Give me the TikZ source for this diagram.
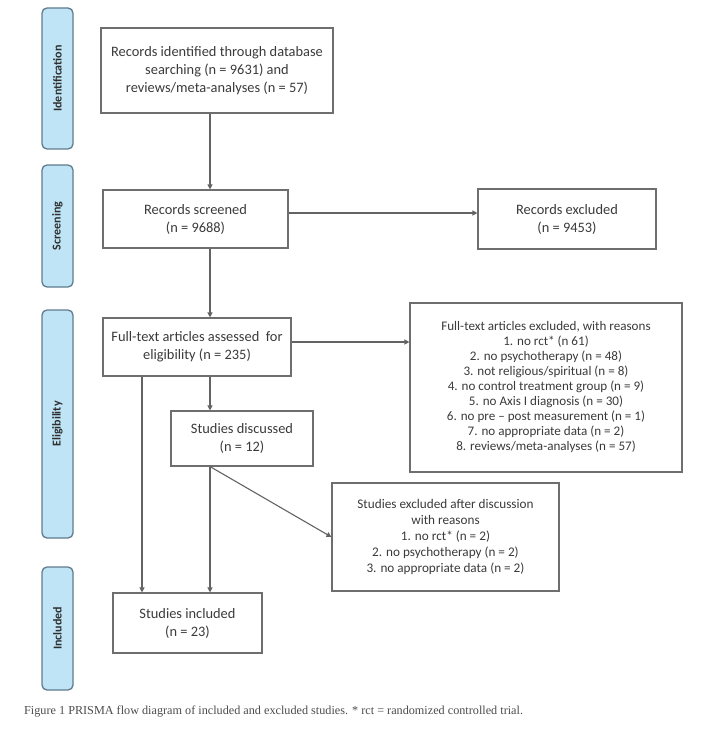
\documentclass[tikz,border=0pt]{standalone}
\usepackage{fontspec}
\setmainfont{Carlito}
\newfontfamily\capfont{Liberation Serif}
\usetikzlibrary{arrows.meta,calc}
\definecolor{barfill}{HTML}{BEE4F6}
\definecolor{barline}{HTML}{5F7C8E}
\definecolor{boxline}{HTML}{6E6E6E}
\definecolor{txt}{HTML}{3A3A3A}
\begin{document}
\begin{tikzpicture}[x=1pt,y=-1pt,
  bar/.style={draw=barline,fill=barfill,line width=1.3pt,rounded corners=5pt,inner sep=0pt},
  barlabel/.style={rotate=90,font=\fontsize{12}{14}\selectfont\bfseries,text=txt!80!black},
  box/.style={draw=boxline,line width=1.1pt,inner sep=2pt,align=center,text=txt,font=\fontsize{14.4}{18}\selectfont},
  sbox/.style={box,font=\fontsize{13.1}{15}\selectfont},
  arr/.style={draw=boxline!90!black,line width=1.1pt,-{Triangle[length=5pt,width=5pt]}},
  ln/.style={draw=boxline!90!black,line width=1.1pt}]
\useasboundingbox (0,0) rectangle (720,743);
% phase bars
\node[bar,minimum width=31,minimum height=141] (pid) at (57.5,78.5) {};
\node[barlabel] (lid) at (pid.center) {Identification};
\node[bar,minimum width=31,minimum height=122] (psc) at (57.5,226) {};
\node[barlabel] (lsc) at (psc.center) {Screening};
\node[bar,minimum width=31,minimum height=228] (pel) at (57.5,424) {};
\node[barlabel] (lel) at (pel.center) {Eligibility};
\node[bar,minimum width=31,minimum height=123] (pin) at (57.5,628.5) {};
\node[barlabel] (lin) at (pin.center) {Included};
% boxes
\node[box,minimum width=232,minimum height=85] (ident) at (217,70.5)
  {Records identified through database\\searching (n = 9631) and\\reviews/meta-analyses (n = 57)};
\node[box,minimum width=185,minimum height=58] (scr) at (195.5,219)
  {Records screened\\(n = 9688)};
\node[box,minimum width=178,minimum height=60] (exc1) at (567,219)
  {Records excluded\\(n = 9453)};
\node[box,minimum width=188,minimum height=58] (full) at (197,347)
  {Full-text articles assessed~~for\\eligibility (n = 235)};
\node[sbox,minimum width=272,minimum height=169] (exc2) at (546,387.5)
  {Full-text articles excluded, with reasons\\
   1. no rct* (n 61)\\
   2. no psychotherapy (n = 48)\\
   3. not religious/spiritual (n = 8)\\
   4. no control treatment group (n = 9)\\
   5. no Axis I diagnosis (n = 30)\\
   6. no pre -- post measurement (n = 1)\\
   7. no appropriate data (n = 2)\\
   8. reviews/meta-analyses (n = 57)};
\node[box,minimum width=142,minimum height=55] (disc) at (242,438.5)
  {Studies discussed\\(n = 12)};
\node[sbox,minimum width=227,minimum height=108,font=\fontsize{13.2}{16}\selectfont] (exc3) at (445.5,537)
  {Studies excluded after discussion\\with reasons\\
   1. no rct* (n = 2)\\
   2. no psychotherapy (n = 2)\\
   3. no appropriate data (n = 2)};
\node[box,minimum width=149,minimum height=60] (incl) at (187.5,623)
  {Studies included\\(n = 23)};
% helper coordinates
\coordinate (xa) at (210,0);
\coordinate (xb) at (142,0);
\coordinate (ya) at (0,213);
\coordinate (yb) at (0,342);
% connectors
\draw[arr] (ident.south -| xa) -- (scr.north -| xa);
\draw[arr] (scr.east |- ya) -- (exc1.west |- ya);
\draw[arr] (scr.south -| xa) -- (full.north -| xa);
\draw[arr] (full.east |- yb) -- (exc2.west |- yb);
\draw[arr] (full.south -| xa) -- (disc.north -| xa);
\draw[arr] (full.south -| xb) -- (incl.north -| xb);
\draw[arr] (disc.south -| xa) -- (incl.north -| xa);
\draw[arr] (disc.south -| xa) -- (exc3.west);
% caption
\node[anchor=west,inner sep=0pt,text=black!70,font=\capfont\fontsize{12.2}{14}\selectfont] (cap) at (24,712)
  {Figure 1 PRISMA flow diagram of included and excluded studies. * rct = randomized controlled trial.};
\end{tikzpicture}
\end{document}
